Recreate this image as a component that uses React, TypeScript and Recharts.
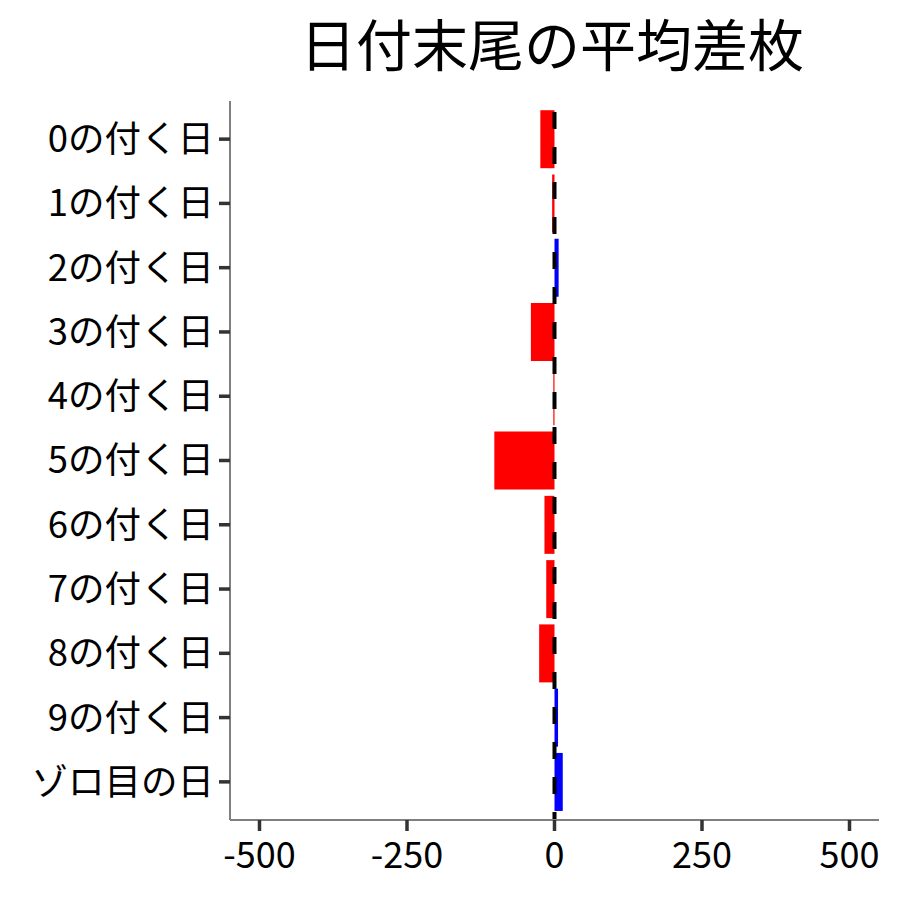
import { BarChart, Bar, XAxis, YAxis, Cell, ReferenceLine } from 'recharts';

const CATEGORIES = [
  '0の付く日',
  '1の付く日',
  '2の付く日',
  '3の付く日',
  '4の付く日',
  '5の付く日',
  '6の付く日',
  '7の付く日',
  '8の付く日',
  '9の付く日',
  'ゾロ目の日',
];
const AVG_DIFF = [-24, -4, 7, -40, -2, -102, -17, -14, -26, 6, 14];
const X_TICKS = [-500, -250, 0, 250, 500];

const FONT = '"Noto Sans CJK JP", "Noto Sans", sans-serif';

const data = CATEGORIES.map((day, i) => ({ day, diff: AVG_DIFF[i] }));

export default function App() {
  return (
    <div style={{ position: 'absolute', left: 0, top: 0, width: 900, height: 900, background: '#fff', fontFamily: FONT }}>
      <svg width={900} height={100} style={{ position: 'absolute', left: 0, top: 0 }}>
        <text x={552} y={66} textAnchor="middle" fontSize={56} fill="#000" fontFamily={FONT}>
          日付末尾の平均差枚
        </text>
      </svg>
      <BarChart
        width={900}
        height={900}
        data={data}
        layout="vertical"
        barCategoryGap="5%"
        margin={{ top: 101, right: 21, bottom: 0, left: 0 }}
      >
        <XAxis
          type="number"
          domain={[-550, 550]}
          ticks={X_TICKS}
          allowDataOverflow
          height={80}
          tick={{ fontSize: 36, fill: '#000', fontFamily: FONT }}
          tickSize={11}
          tickMargin={11}
          axisLine={{ stroke: '#7f7f7f', strokeWidth: 2 }}
          tickLine={{ stroke: '#333', strokeWidth: 3.5 }}
        />
        <YAxis
          type="category"
          dataKey="day"
          width={230}
          padding={{ top: 6, bottom: 6 }}
          tick={{ fontSize: 36.5, fill: '#000', fontFamily: FONT }}
          tickSize={11}
          tickMargin={5}
          axisLine={{ stroke: '#7f7f7f', strokeWidth: 2 }}
          tickLine={{ stroke: '#333', strokeWidth: 3.5 }}
          interval={0}
        />
        <Bar dataKey="diff" isAnimationActive={false}>
          {data.map((d) => (
            <Cell key={d.day} fill={d.diff >= 0 ? '#0000ff' : '#ff0000'} />
          ))}
        </Bar>
        <ReferenceLine x={0} stroke="#000" strokeWidth={4} strokeDasharray="17 18" strokeDashoffset={9} />
      </BarChart>
    </div>
  );
}
